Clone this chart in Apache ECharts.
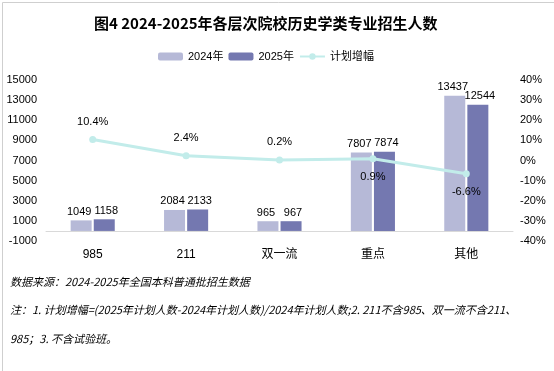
<!DOCTYPE html>
<html>
<head>
<meta charset="utf-8">
<script src="https://cdn.jsdelivr.net/npm/echarts@6/dist/echarts.min.js"></script>
<style>
  html, body { margin: 0; padding: 0; background: #fff; }
  #chart-container { width: 554px; height: 371px; }
</style>
</head>
<body>
<div id="chart-container"></div>
<script>
var categories = ["985", "211", "双一流", "重点", "其他"];
var plan2024 = [1049, 2084, 965, 7807, 13437];
var plan2025 = [1158, 2133, 967, 7874, 12544];
var growth = [10.4, 2.4, 0.2, 0.9, -6.6];
// label above or below each growth point
var growthLabelPos = ["top", "top", "top", "bottom", "bottom"];

var notes = [
  "数据来源：2024-2025年全国本科普通批招生数据",
  "注：1. 计划增幅=(2025年计划人数-2024年计划人数)/2024年计划人数;2. 211不含985、双一流不含211、",
  "985；3. 不含试验班。"
];

var FONT = "'Liberation Sans', 'Noto Sans CJK SC', sans-serif";

var dom = document.getElementById("chart-container");
var myChart = echarts.init(dom, null, { renderer: "canvas" });

var growthData = growth.map(function (v, i) {
  return { value: v, label: { position: growthLabelPos[i] } };
});

var option = {
  backgroundColor: "#fff",
  textStyle: { fontFamily: FONT },
  title: {
    text: "图4 2024-2025年各层次院校历史学类专业招生人数",
    left: 89,
    top: 11,
    textStyle: { fontSize: 15, fontWeight: "bold", color: "#000", fontFamily: "'Noto Sans CJK SC', sans-serif" }
  },
  legend: {
    top: 46,
    left: 153,
    itemWidth: 25,
    itemHeight: 8,
    itemGap: 5,
    textStyle: { fontSize: 11, color: "#000" },
    data: ["2024年", "2025年", "计划增幅"]
  },
  grid: { left: 46, right: 41, top: 80, bottom: 130 },
  xAxis: {
    type: "category",
    data: categories,
    axisTick: { show: false },
    axisLine: { onZero: true, onZeroAxisIndex: 0, lineStyle: { color: "#d9d9d9" } },
    axisLabel: { fontSize: 12, color: "#000", margin: 8 }
  },
  yAxis: [
    {
      type: "value",
      min: -1000,
      max: 15000,
      interval: 2000,
      splitLine: { show: false },
      axisLine: { show: false },
      axisTick: { show: false },
      axisLabel: {
        fontSize: 11, color: "#000", margin: 9,
        formatter: function (v) { return String(v); }
      }
    },
    {
      type: "value",
      min: -40,
      max: 40,
      interval: 10,
      splitLine: { show: false },
      axisLine: { show: false },
      axisTick: { show: false },
      axisLabel: { fontSize: 11, color: "#000", margin: 7, formatter: "{value}%" }
    }
  ],
  series: [
    {
      name: "2024年",
      type: "bar",
      data: plan2024,
      barWidth: 21,
      barGap: "10%",
      itemStyle: { color: "#b6b9d7" },
      label: { show: true, position: "top", fontSize: 11, color: "#000", distance: 3, offset: [-2, 0] }
    },
    {
      name: "2025年",
      type: "bar",
      data: plan2025,
      barWidth: 21,
      itemStyle: { color: "#7478b0" },
      label: { show: true, position: "top", fontSize: 11, color: "#000", distance: 3, offset: [2, 0] }
    },
    {
      name: "计划增幅",
      type: "line",
      yAxisIndex: 1,
      data: growthData,
      symbol: "circle",
      symbolSize: 7,
      lineStyle: { color: "#c2ecea", width: 3 },
      itemStyle: { color: "#c2ecea" },
      label: {
        show: true,
        fontSize: 11,
        color: "#000",
        distance: 9,
        formatter: function (p) { return p.value.toFixed(1) + "%"; }
      },
      z: 5
    }
  ],
  graphic: [
    {
      type: "rect",
      left: 0,
      top: 0,
      shape: { width: 553, height: 370 },
      style: { fill: "none", stroke: "#cfcfcf", lineWidth: 1 },
      silent: true
    }
  ].concat(notes.map(function (t, i) {
    return {
      type: "text",
      left: 10,
      top: 276 + i * 28.5,
      style: { text: t, fill: "#000", font: "italic 11px 'Noto Sans CJK SC', sans-serif" }
    };
  }))
};

myChart.setOption(option);
window.addEventListener("resize", myChart.resize);
</script>
</body>
</html>
